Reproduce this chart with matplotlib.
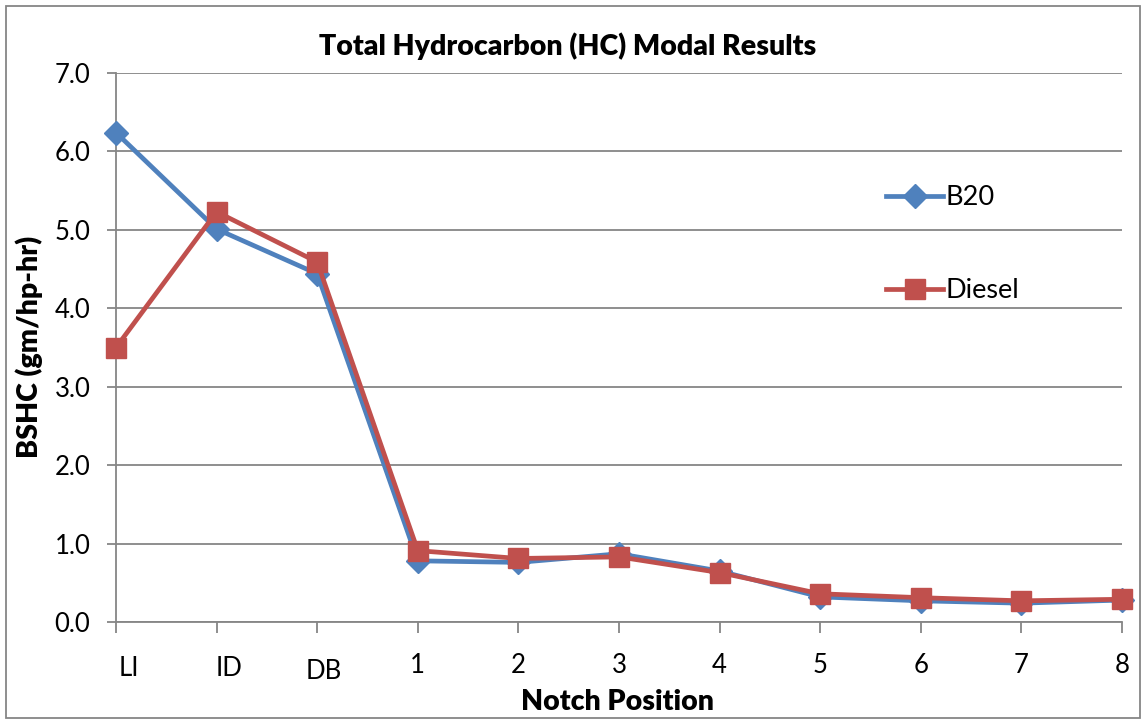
import matplotlib
matplotlib.use("Agg")
import matplotlib.pyplot as plt
import matplotlib.transforms as mtransforms
from matplotlib.patches import Rectangle

categories = ["LI", "ID", "DB", "1", "2", "3", "4", "5", "6", "7", "8"]
b20 = [6.24, 5.01, 4.44, 0.78, 0.76, 0.87, 0.65, 0.32, 0.27, 0.24, 0.28]
diesel = [3.50, 5.23, 4.59, 0.91, 0.81, 0.83, 0.63, 0.36, 0.31, 0.27, 0.29]
yticks = [0.0, 1.0, 2.0, 3.0, 4.0, 5.0, 6.0, 7.0]

plt.rcParams['font.family'] = ['Lato', 'DejaVu Sans']

W, H = 1146, 724
fig = plt.figure(figsize=(W / 100, H / 100), dpi=100)
ax = fig.add_axes([116 / W, 1 - 622 / H, (1122 - 116) / W, (622 - 73) / H])

grid_c = "#868686"
blue = "#4F81BD"
red = "#C0504D"

x = list(range(len(categories)))
ax.plot(x, b20, color=blue, lw=3.4, marker="D", ms=12.5, label="B20", zorder=3,
        solid_joinstyle="round", clip_on=False)
ax.plot(x, diesel, color=red, lw=3.4, marker="s", ms=14, label="Diesel", zorder=4,
        solid_joinstyle="round", clip_on=False)

ax.set_xlim(0, len(categories) - 1)
ax.set_ylim(0, 7)
ax.set_yticks(yticks)
ax.set_yticklabels([f"{v:.1f}" for v in yticks], fontsize=18.5)
ax.set_xticks(x)
ax.set_xticklabels(categories, fontsize=18.5)

ax.yaxis.grid(True, color=grid_c, lw=1.3)
ax.set_axisbelow(True)
for s in ["top", "right"]:
    ax.spines[s].set_visible(False)
for s in ["left", "bottom"]:
    ax.spines[s].set_color(grid_c)
    ax.spines[s].set_linewidth(1.3)
ax.tick_params(axis="y", direction="out", length=6.5, width=1.3, color=grid_c, pad=12)
ax.tick_params(axis="x", direction="out", length=8, width=1.3, color=grid_c, pad=14)

# small offsets of the first category labels, as in the reference
offsets = {0: (13, -3), 1: (12, -3), 2: (7, -6)}
for i, lab in enumerate(ax.get_xticklabels()):
    if i in offsets:
        dx, dy = offsets[i]
        lab.set_transform(lab.get_transform() +
                          mtransforms.ScaledTranslation(dx / 100, dy / 100, fig.dpi_scale_trans))

fig.text(568 / W, 1 - 46 / H, "Total Hydrocarbon (HC) Modal Results", fontsize=20.5,
         fontweight="heavy", ha="center", va="center")
ax.set_xlabel("Notch Position", fontsize=20.5, fontweight="heavy")
ax.set_ylabel("BSHC (gm/hp-hr)", fontsize=20.5, fontweight="heavy")
ax.xaxis.set_label_coords(0.4985, -0.122)
ax.yaxis.set_label_coords(-0.0725, 0.502)

leg = ax.legend(loc="upper left", bbox_to_anchor=(862 / W, 1 - 161 / H),
                bbox_transform=fig.transFigure, frameon=False, fontsize=19.5,
                labelspacing=2.5, handlelength=2.1, handletextpad=0.1)

fig.add_artist(Rectangle((6 / W, 6 / H), (W - 12) / W, (H - 12) / H,
                         transform=fig.transFigure, fill=False, ec=grid_c, lw=1.3))

fig.savefig("out.png", dpi=100)
